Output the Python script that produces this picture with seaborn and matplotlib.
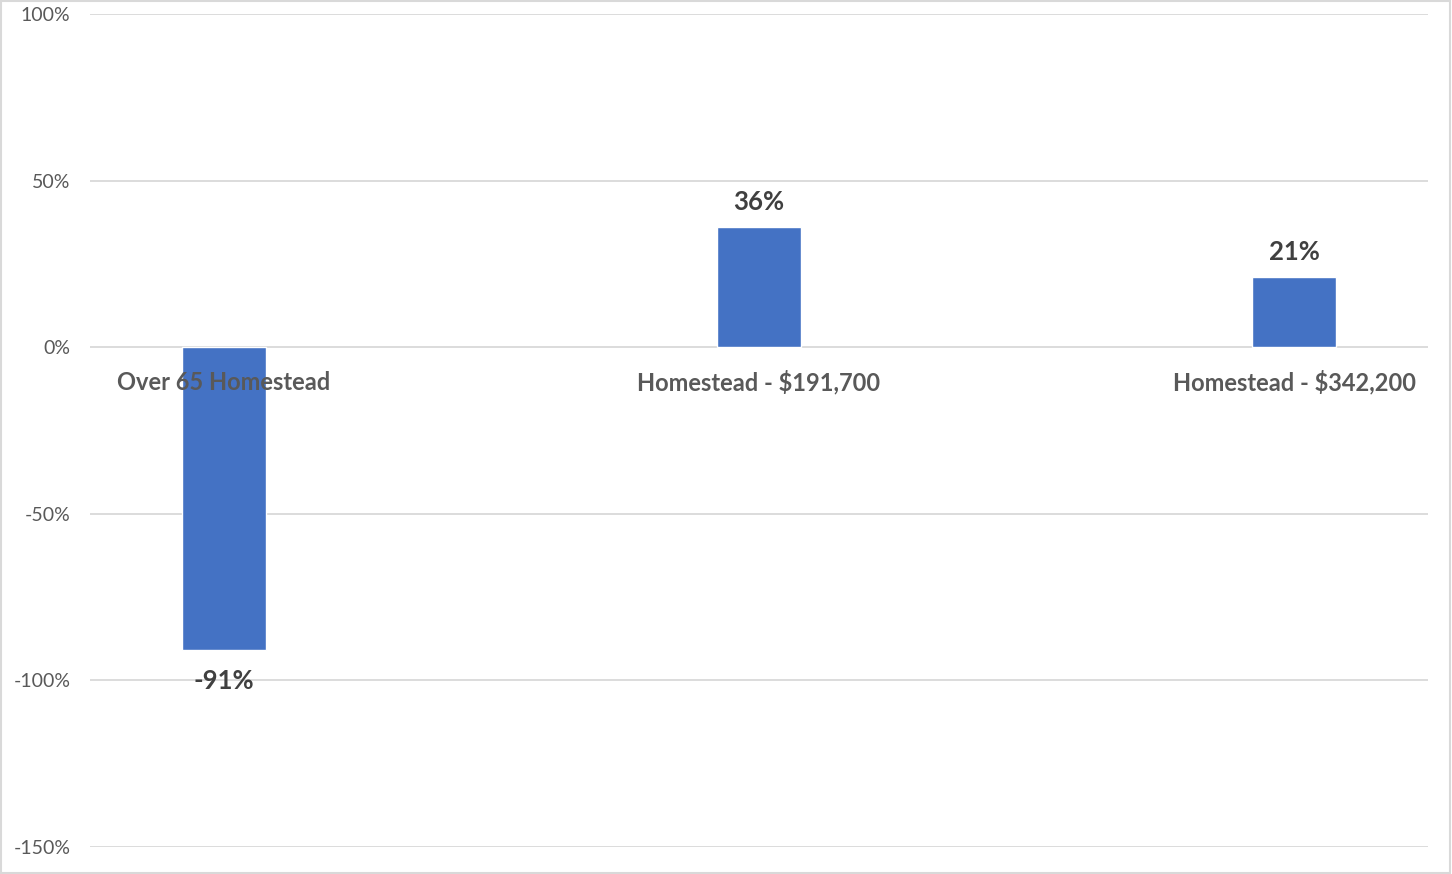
import matplotlib
matplotlib.use("Agg")
import matplotlib.pyplot as plt
import seaborn as sns
import pandas as pd
from matplotlib.patches import Rectangle

categories = ["Over 65 Homestead", "Homestead - $191,700", "Homestead - $342,200"]
values = [-91, 36, 21]
yticks = [-150, -100, -50, 0, 50, 100]
ytick_labels = ["-150%", "-100%", "-50%", "0%", "50%", "100%"]

sns.set_theme(style="white")
plt.rcParams["font.family"] = ["Lato", "DejaVu Sans"]

df = pd.DataFrame({"cat": categories, "val": values})

fig = plt.figure(figsize=(14.52, 8.74), dpi=100)
ax = fig.add_axes([90/1452, 1-847/874, (1428-90)/1452, (847-14)/874])

sns.barplot(data=df, x="cat", y="val", color="#4472C4", width=0.157,
            saturation=1, ax=ax, zorder=3)

ax.set_ylim(-150, 100)
ax.set_xlim(-0.25, 2.25)
ax.set_yticks(yticks)
ax.set_yticklabels(ytick_labels, color="#595959", fontsize=14)
ax.tick_params(axis="y", length=0, pad=14)
ax.set_xticks([])
ax.set_xlabel("")
ax.set_ylabel("")
for s in ax.spines.values():
    s.set_visible(False)
for t in yticks:
    ax.axhline(t, color="#D9D9D9", lw=1.3, zorder=1)

for i, (c, v) in enumerate(zip(categories, values)):
    ax.annotate(c, xy=(i, 0), xytext=(0, -25.3), textcoords="offset points",
                ha="center", va="center", fontsize=17, fontweight="bold",
                color="#595959", zorder=5)
    off = 18.5 if v >= 0 else -22
    ax.annotate(f"{v}%", xy=(i, v), xytext=(0, off), textcoords="offset points",
                ha="center", va="center", fontsize=18.5, fontweight="bold",
                color="#404040", zorder=5)

fig.patches.append(Rectangle((0.0005, 0.001), 0.998, 0.998, transform=fig.transFigure,
                             fill=False, edgecolor="#D9D9D9", lw=1.5))

fig.savefig("out.png", dpi=100)
